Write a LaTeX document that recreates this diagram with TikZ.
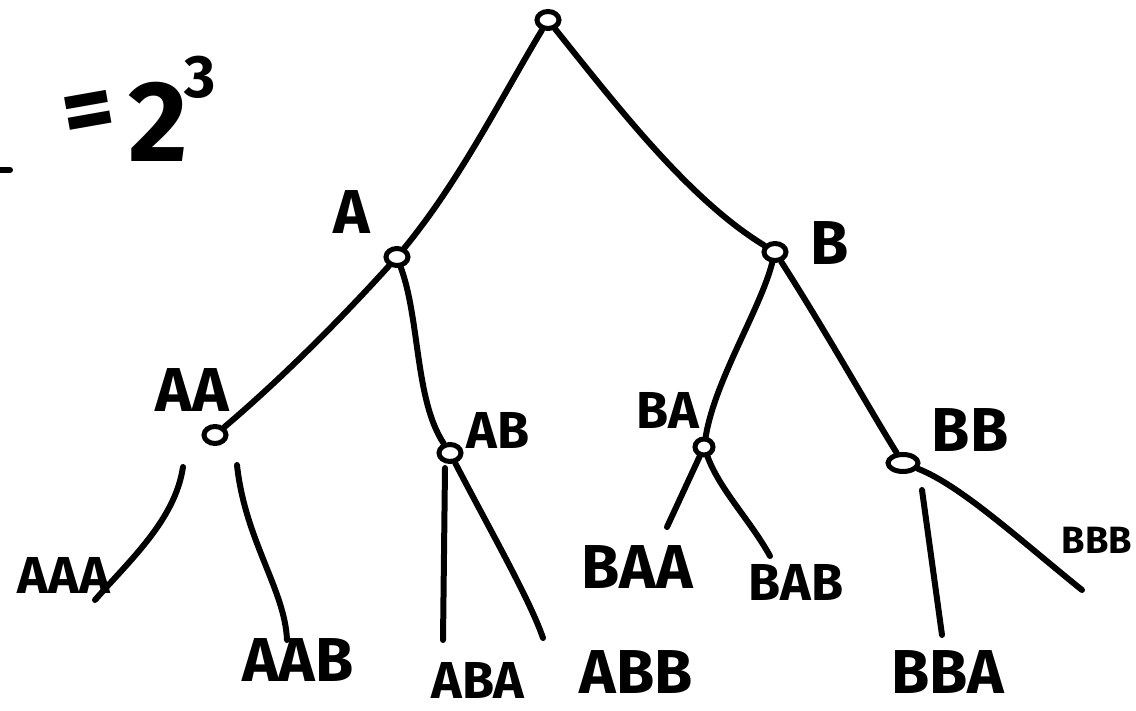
\documentclass[tikz,border=0pt]{standalone}
\usepackage{fontspec}
\setmainfont{Fira Sans}
\usetikzlibrary{shapes.geometric}
\begin{document}
\begin{tikzpicture}[x=1pt,y=-1pt,
  stroke/.style={line width=6pt,line cap=round,line join=round},
  dot/.style={draw,ellipse,line width=5pt,minimum width=22pt,minimum height=17pt,inner sep=0pt},
  lbl/.style={inner sep=0pt,font=\fontsize{62}{62}\selectfont\bfseries},
  sml/.style={inner sep=0pt,font=\fontsize{52}{52}\selectfont\bfseries}]
\useasboundingbox (0,0) rectangle (1136,711);
% nodes
\node[dot] (root) at (548,20) {};
\node[dot] (nA) at (397,257) {};
\node[dot] (nB) at (775,252) {};
\node[dot] (nAA) at (215,435) {};
\node[dot] (nAB) at (450,453) {};
\node[dot,minimum width=18pt,minimum height=16pt] (nBA) at (704,447) {};
\node[dot,minimum width=30pt,minimum height=17pt] (nBB) at (903,463) {};
% labels
\node[lbl] (tA) at (352,212) {A};
\node[lbl] (tB) at (830,243) {B};
\node[lbl] (tAA) at (192,390) {AA};
\node[sml] (tAB) at (498,430) {AB};
\node[sml] (tBA) at (668,410) {BA};
\node[lbl] (tBB) at (970,430) {BB};
\node[sml] (tAAA) at (64,575) {AAA};
\node[lbl] (tAAB) at (298,660) {AAB};
\node[sml] (tABA) at (478,680) {ABA};
\node[lbl] (tABB) at (636,672) {ABB};
\node[lbl] (tBAA) at (637,567) {BAA};
\node[sml] (tBAB) at (796,582) {BAB};
\node[lbl] (tBBA) at (948,672) {BBA};
\node[inner sep=0pt,font=\fontsize{38}{38}\selectfont\bfseries] (tBBB) at (1097,540) {BBB};
\node[inner sep=0pt,font=\fontsize{100}{100}\selectfont\bfseries,rotate=10] (eq) at (90,119) {=};
\node[inner sep=0pt,font=\fontsize{115}{115}\selectfont\bfseries] (two) at (158,122) {2};
\node[inner sep=0pt,font=\fontsize{60}{60}\selectfont\bfseries] (three) at (200,77) {3};
\coordinate (dashL) at (0,170);
\coordinate (dashR) at (10,170);
\draw[stroke] (dashL) -- (dashR);
% leaf ends
\coordinate (sAAA) at (183,467); \coordinate (eAAA) at (95,600);
\coordinate (sAAB) at (237,465); \coordinate (eAAB) at (287,640);
\coordinate (sABA) at (445,468); \coordinate (eABA) at (443,640);
\coordinate (eABB) at (543,638);
\coordinate (eBAA) at (667,527);
\coordinate (eBAB) at (770,556);
\coordinate (sBBA) at (922,490); \coordinate (eBBA) at (942,635);
\coordinate (eBBB) at (1082,590);
% edges
\draw[stroke] (root) .. controls (500,100) and (460,180) .. (nA);
\draw[stroke] (root) .. controls (620,110) and (690,200) .. (nB);
\draw[stroke] (nA) .. controls (340,320) and (280,380) .. (nAA);
\draw[stroke] (nA) .. controls (420,320) and (415,400) .. (nAB);
\draw[stroke] (nB) .. controls (760,310) and (715,380) .. (nBA);
\draw[stroke] (nB) .. controls (825,330) and (870,410) .. (nBB);
\draw[stroke] (sAAA) .. controls (175,520) and (130,560) .. (eAAA);
\draw[stroke] (sAAB) .. controls (245,540) and (285,590) .. (eAAB);
\draw[stroke] (sABA) -- (eABA);
\draw[stroke] (nAB) .. controls (490,530) and (530,600) .. (eABB);
\draw[stroke] (nBA) -- (eBAA);
\draw[stroke] (nBA) .. controls (720,490) and (750,520) .. (eBAB);
\draw[stroke] (sBBA) -- (eBBA);
\draw[stroke] (nBB) .. controls (960,485) and (1020,540) .. (eBBB);
\end{tikzpicture}
\end{document}
